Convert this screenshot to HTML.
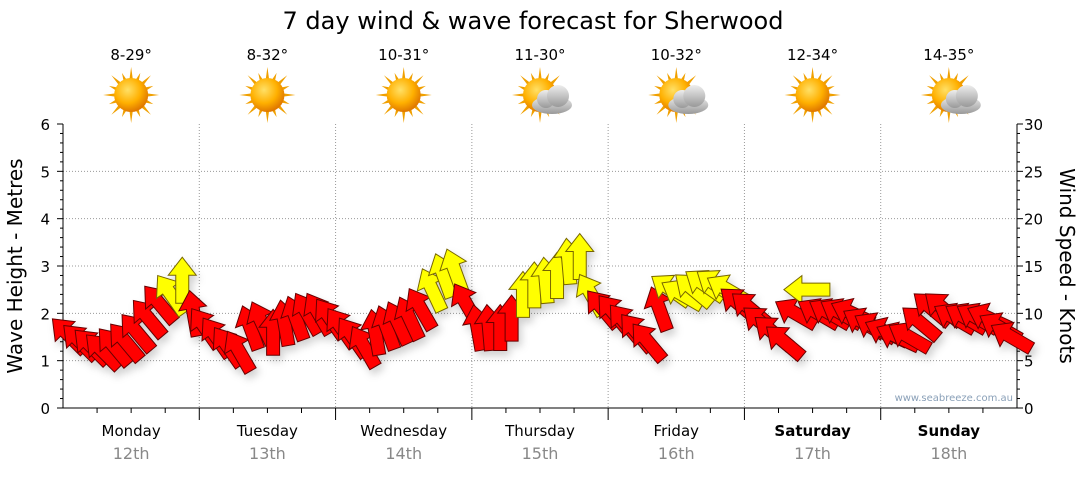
<!DOCTYPE html>
<html><head><meta charset="utf-8"><style>
body{margin:0;background:#fff;font-family:"Liberation Sans",sans-serif}
svg text{font-family:"DejaVu Sans","Liberation Sans",sans-serif}
</style></head><body>
<svg id="c" width="1080" height="475" xmlns="http://www.w3.org/2000/svg">
<defs>
<filter id="sh" x="-50%" y="-50%" width="200%" height="200%"><feDropShadow dx="3" dy="5" stdDeviation="4" flood-color="#000" flood-opacity="0.18"/></filter>
<radialGradient id="sunG" cx="40%" cy="35%" r="65%"><stop offset="0" stop-color="#ffe066"/><stop offset="0.6" stop-color="#ffb000"/><stop offset="1" stop-color="#e07800"/></radialGradient>
<linearGradient id="cloudG" x1="0" y1="0" x2="0" y2="1"><stop offset="0" stop-color="#eee"/><stop offset="1" stop-color="#999"/></linearGradient>
</defs>
<text x="533" y="29" font-size="24" text-anchor="middle" fill="#000">7 day wind &amp; wave forecast for Sherwood</text>
<g id="grid"></g><g id="axes"></g><g id="icons"></g><g id="arrows" filter="url(#sh)"></g>
<text x="1013" y="401" font-size="10" text-anchor="end" fill="#8aa0b8">www.seabreeze.com.au</text>
<text transform="translate(22,266) rotate(-90)" font-size="20" text-anchor="middle">Wave Height - Metres</text>
<text transform="translate(1060,266) rotate(90)" font-size="20" text-anchor="middle">Wind Speed - Knots</text>
</svg>
<script>
const days=["Monday","Tuesday","Wednesday","Thursday","Friday","Saturday","Sunday"];
const dates=["12th","13th","14th","15th","16th","17th","18th"];
const temps=["8-29°","8-32°","10-31°","11-30°","10-32°","12-34°","14-35°"];
const cloudy=[0,0,0,1,1,0,1];
const waveTicks=[0,1,2,3,4,5,6];
const windTicks=[0,5,10,15,20,25,30];
// 2-hourly wind speed (knots)
const windSpeed=[7.7,7,6.5,6,6.5,7,8,9.5,11,12,13.5,10,
8.5,7.5,6.5,6,8.5,9,8,9,9.5,10,10,9.5,
8.5,7.5,6.5,8,8.5,9,9.5,10.5,12.5,14,14.5,11,
8.5,8.5,8.5,9.5,12,13,13.5,14,15.5,16,12,10.5,
10,9,8,7,10.5,12.5,12,12.5,13,13,12.5,11,
10.5,9,8,7,10,12.5,10,10,10,10,9,8.5,
8,7.5,7.5,9,10.5,10.5,9.5,9.5,9.5,9.5,8.5,7.5];
// direction arrow points to (deg clockwise from up)
const windDir=[-45,-45,-45,-45,-40,-40,-40,-40,-40,-35,0,-10,
-35,-35,-35,-30,-20,-25,0,-10,-20,-30,-30,-35,
-35,-35,-30,-10,-20,-25,-25,-30,-25,-20,-20,-30,
-10,-5,0,0,0,0,-5,0,-5,0,-30,-40,
-40,-40,-40,-40,-20,-55,-60,-50,-55,-55,-60,-50,
-50,-50,-50,-50,-60,-90,-60,-60,-60,-65,-60,-60,
-65,-65,-60,-50,-50,-50,-60,-60,-60,-65,-60,-60];
const NS="http://www.w3.org/2000/svg";
const X0=63,X1=1017,Y0=408,Y1=124,DW=(X1-X0)/7;
const yW=m=>Y0-(m/6)*(Y0-Y1), yK=k=>Y0-(k/30)*(Y0-Y1), xT=h=>X0+h/24*DW;
function mk(p,tag,at,txt){const e=document.createElementNS(NS,tag);for(const k in at)e.setAttribute(k,at[k]);if(txt!=null)e.textContent=txt;p.appendChild(e);return e;}
const grid=document.getElementById('grid'),axes=document.getElementById('axes'),icons=document.getElementById('icons'),arrows=document.getElementById('arrows');
waveTicks.forEach(v=>{const y=yW(v);
 if(v>0&&v<6){const l=mk(grid,'line',{x1:X0,x2:X1,y1:y,y2:y,stroke:'#999','stroke-dasharray':'1,2'});}
 const t=mk(axes,'text',{x:50,y:y+6,'font-size':15,'text-anchor':'end'},v);
 mk(axes,'line',{x1:X0-6,x2:X0,y1:y,y2:y,stroke:'#000'});
 if(v<6)for(let j=1;j<5;j++){const yy=y-j*(Y0-Y1)/30;mk(axes,'line',{x1:X0-3,x2:X0,y1:yy,y2:yy,stroke:'#000'});}
});
windTicks.forEach(v=>{const y=yK(v);
 const t=mk(axes,'text',{x:1024,y:y+6,'font-size':15},v);
 mk(axes,'line',{x1:X1,x2:X1+6,y1:y,y2:y,stroke:'#000'});
 if(v<30)for(let j=1;j<5;j++){const yy=y-j*(Y0-Y1)/30;mk(axes,'line',{x1:X1,x2:X1+3,y1:yy,y2:yy,stroke:'#000'});}
});
mk(axes,'line',{x1:X0,x2:X0,y1:Y1,y2:Y0,stroke:'#000'});
mk(axes,'line',{x1:X1,x2:X1,y1:Y1,y2:Y0,stroke:'#000'});
mk(axes,'line',{x1:X0,x2:X1,y1:Y0,y2:Y0,stroke:'#000'});
days.forEach((d,i)=>{const xs=X0+i*DW,xc=xs+DW/2;
 if(i>0){const l=mk(grid,'line',{x1:xs,x2:xs,y1:Y1,y2:Y0,stroke:'#999','stroke-dasharray':'1,2'});
  mk(axes,'line',{x1:xs,x2:xs,y1:Y0,y2:Y0+12,stroke:'#000'});}
 for(let h=6;h<24;h+=6){const x=xT(i*24+h);mk(axes,'line',{x1:x,x2:x,y1:Y0,y2:Y0+5,stroke:'#000'});}
 const bold=i>=5;
 const a=mk(axes,'text',{x:xc,y:436,'font-size':15,'text-anchor':'middle','font-weight':bold?'bold':'normal'},d);
 const b=mk(axes,'text',{x:xc,y:459,'font-size':16,'text-anchor':'middle',fill:'#888'},dates[i]);
 const t=mk(icons,'text',{x:xc,y:60,'font-size':15,'text-anchor':'middle'},temps[i]);
 const g=mk(icons,'g',{transform:`translate(${xc},95)`});
 for(let r=0;r<16;r++){const an=r*22.5*Math.PI/180,L=r%2?24:28;mk(g,'polygon',{points:`${Math.cos(an-0.12)*15},${Math.sin(an-0.12)*15} ${Math.cos(an)*L},${Math.sin(an)*L} ${Math.cos(an+0.12)*15},${Math.sin(an+0.12)*15}`,fill:'#f0a000'});}
 mk(g,'circle',{r:17,fill:'url(#sunG)'});
 if(cloudy[i]){const c=mk(g,'g',{transform:'translate(12,6)'});
  mk(c,'ellipse',{cx:0,cy:4,rx:20,ry:9,fill:'url(#cloudG)'});mk(c,'circle',{cx:-6,cy:-2,r:9,fill:'url(#cloudG)'});mk(c,'circle',{cx:6,cy:-5,r:11,fill:'url(#cloudG)'});}
});
const shape="0,-23 14,-5 6.5,-5 6.5,23 -6.5,23 -6.5,-5 -14,-5";
windSpeed.forEach((k,i)=>{const x=xT(i*2+1),y=yK(k);
 const yel=k>=12;
 const p=mk(arrows,'polygon',{points:shape,fill:yel?'#ffff00':'#ff0000',stroke:yel?'#776600':'#660000','stroke-width':1,transform:`translate(${x},${y}) rotate(${windDir[i]})`});
 
 
});
</script>
</body></html>
